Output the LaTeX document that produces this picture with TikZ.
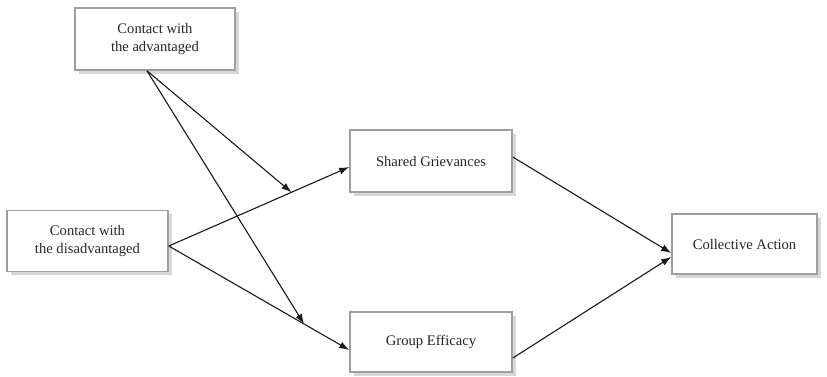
\documentclass[tikz,border=0pt]{standalone}
\usepackage{fontspec}
\setmainfont{Liberation Serif}
\usetikzlibrary{arrows.meta,shadows,calc}
\begin{document}
\begin{tikzpicture}[x=1pt,y=-1pt,
  box/.style={draw=gray!75, line width=1.6pt, fill=white, align=center,
    inner sep=0pt, text=black!85,
    font=\fontsize{14.6}{18.5}\selectfont,
    drop shadow={shadow xshift=3.5pt, shadow yshift=-3.5pt, fill=gray!45, opacity=0.7}},
  arr/.style={line width=1.1pt, draw=black!90, -{Latex[length=10pt,width=7pt]}}]
\useasboundingbox (0,0) rectangle (827,376);
\node[box, minimum width=160pt, minimum height=62pt] (adv) at (155,39) {Contact with\\the advantaged};
\node[box, minimum width=161pt, minimum height=61pt] (dis) at (87.5,241) {Contact with\\the disadvantaged};
\node[box, minimum width=162pt, minimum height=62pt] (sg) at (431,161) {Shared Grievances};
\node[box, minimum width=162pt, minimum height=60pt] (ge) at (431,342) {Group Efficacy};
\node[box, minimum width=145pt, minimum height=60pt] (ca) at (744.5,244) {Collective Action};
\coordinate (dout) at ([yshift=-5pt]dis.east);
\coordinate (aout) at ([xshift=-8pt]adv.south);
\draw[arr] (dout) -- ([yshift=-6pt]sg.west) coordinate[pos=0.68] (m1);
\draw[arr] (dout) -- ([yshift=-8pt]ge.west) coordinate[pos=0.75] (m2);
\draw[arr] (aout) -- (m1);
\draw[arr] (aout) -- (m2);
\draw[arr] ([yshift=4pt]sg.east) -- ([yshift=-9pt]ca.west);
\draw[arr] ([yshift=-16pt]ge.east) -- ([yshift=-13pt]ca.west);
\end{tikzpicture}
\end{document}
